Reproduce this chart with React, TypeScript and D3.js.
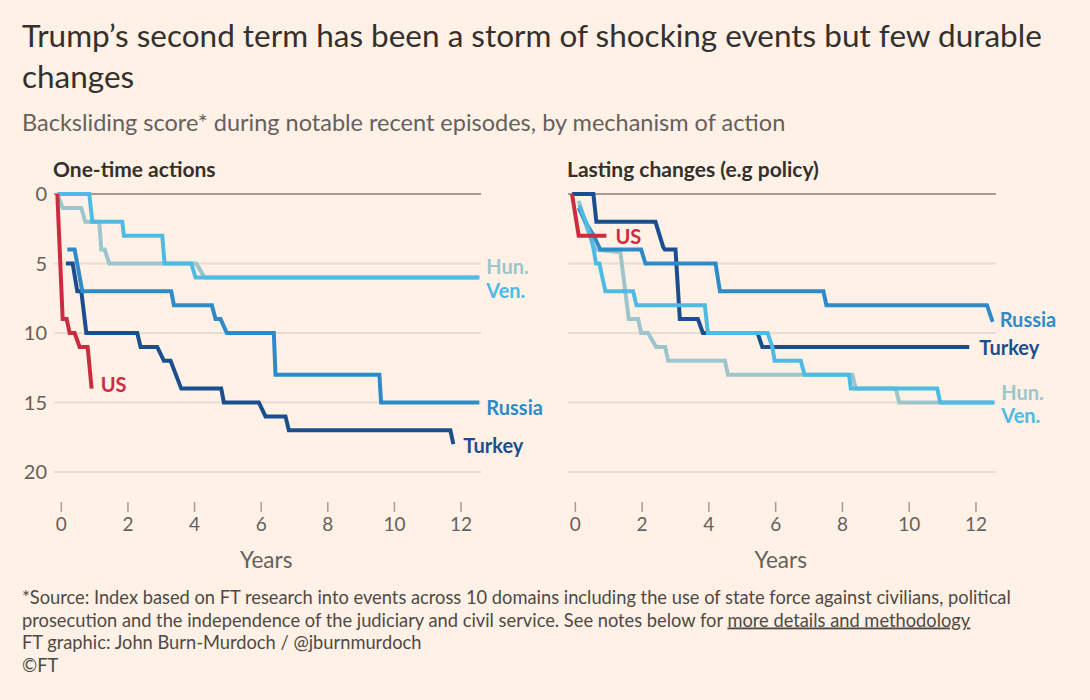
import React, { useRef, useEffect } from "react";
import * as d3 from "d3";

type Pt = [number, number];

const xTicks = [0, 2, 4, 6, 8, 10, 12];
const yTicks = [0, 5, 10, 15, 20];

// One-time actions: [years, backsliding score]
const oneTimeHun: Pt[] = [[-0.12, 0], [0.04, 1], [0.6, 1], [0.72, 2], [1.14, 2], [1.2, 4], [1.3, 4], [1.44, 5], [4.05, 5], [4.3, 6], [12.55, 6]];
const oneTimeTurkey: Pt[] = [[0.14, 5], [0.34, 5], [0.48, 7], [0.6, 7], [0.75, 10], [2.28, 10], [2.38, 11], [2.88, 11], [3.08, 12], [3.28, 12], [3.6, 14], [4.8, 14], [4.88, 15], [5.93, 15], [6.13, 16], [6.73, 16], [6.83, 17], [11.68, 17], [11.77, 18]];
const oneTimeRussia: Pt[] = [[0.18, 4], [0.4, 4], [0.63, 7], [3.3, 7], [3.38, 8], [4.52, 8], [4.63, 9], [4.78, 9], [4.97, 10], [6.38, 10], [6.43, 13], [9.55, 13], [9.6, 15], [12.55, 15]];
const oneTimeVen: Pt[] = [[-0.12, 0], [0.84, 0], [0.93, 2], [1.83, 2], [1.88, 3], [3.03, 3], [3.1, 5], [3.9, 5], [4.03, 6], [12.55, 6]];
const oneTimeUS: Pt[] = [[-0.12, 0], [0.04, 9], [0.16, 9], [0.25, 10], [0.4, 10], [0.55, 11], [0.79, 11], [0.91, 14]];

// Lasting changes (e.g policy)
const lastingHun: Pt[] = [[0.1, 0.5], [0.35, 2.5], [0.6, 4], [1.35, 4.2], [1.6, 9], [1.88, 9], [1.97, 10], [2.18, 10], [2.42, 11], [2.69, 11], [2.78, 12], [4.48, 12], [4.57, 13], [8.3, 13], [8.4, 14], [9.6, 14], [9.7, 15], [12.55, 15]];
const lastingTurkey: Pt[] = [[-0.1, 0], [0.54, 0], [0.63, 2], [2.4, 2], [2.63, 3.8], [2.68, 4], [3.0, 4], [3.13, 9], [3.67, 9], [3.82, 10], [5.46, 10], [5.6, 11], [11.8, 11]];
const lastingRussia: Pt[] = [[0.1, 1], [0.3, 2], [0.55, 3], [0.75, 4], [1.97, 4], [2.1, 5], [4.2, 5], [4.33, 7], [7.43, 7], [7.52, 8], [12.33, 8], [12.5, 9.2]];
const lastingVen: Pt[] = [[0.12, 0.8], [0.4, 2.5], [0.55, 4], [0.62, 5], [0.72, 5], [0.9, 7], [1.73, 7], [1.83, 8], [3.88, 8], [3.97, 10], [5.76, 10], [5.9, 11], [5.97, 12], [6.75, 12], [6.87, 13], [8.2, 13], [8.25, 14], [10.84, 14], [10.93, 15], [12.55, 15]];
const lastingUS: Pt[] = [[-0.1, 0], [0.1, 3], [0.93, 3]];

const colors: Record<string, string> = {
    "Hun.": "#9cc5cd",
    Turkey: "#1b4e8f",
    Russia: "#2e8bca",
    "Ven.": "#4dbbe4",
    US: "#cc2c40",
};

const footer = [
    "*Source: Index based on FT research into events across 10 domains including the use of state force against civilians, political",
    "prosecution and the independence of the judiciary and civil service. See notes below for ",
    "FT graphic: John Burn-Murdoch / @jburnmurdoch",
    "©FT",
];

type Series = { name: string; data: Pt[]; dx: number; dy: number };

const panels: { title: string; range: [number, number]; yLabels: boolean; series: Series[] }[] = [
    {
        title: "One-time actions",
        range: [54, 481],
        yLabels: true,
        series: [
            { name: "Hun.", data: oneTimeHun, dx: 7, dy: -10 },
            { name: "Turkey", data: oneTimeTurkey, dx: 10, dy: 2 },
            { name: "Russia", data: oneTimeRussia, dx: 7, dy: 5 },
            { name: "Ven.", data: oneTimeVen, dx: 7, dy: 14 },
            { name: "US", data: oneTimeUS, dx: 9, dy: -4 },
        ],
    },
    {
        title: "Lasting changes (e.g policy)",
        range: [568, 996],
        yLabels: false,
        series: [
            { name: "Hun.", data: lastingHun, dx: 7, dy: -10 },
            { name: "Turkey", data: lastingTurkey, dx: 10, dy: 1 },
            { name: "Russia", data: lastingRussia, dx: 7, dy: -2 },
            { name: "Ven.", data: lastingVen, dx: 7, dy: 13 },
            { name: "US", data: lastingUS, dx: 9, dy: 1 },
        ],
    },
];

const FONT = "Lato, 'Noto Sans', sans-serif";

export default function App() {
    const ref = useRef<SVGSVGElement | null>(null);

    useEffect(() => {
        if (!ref.current) return;
        const svg = d3.select(ref.current);
        svg.selectAll("*").remove();

        svg.append("rect").attr("width", 1090).attr("height", 700).attr("fill", "#fff1e5");

        svg.append("text").attr("x", 22).attr("y", 47)
            .style("font-family", FONT).style("font-size", "31.5px").attr("fill", "#33302e")
            .text("Trump’s second term has been a storm of shocking events but few durable");
        svg.append("text").attr("x", 22).attr("y", 88)
            .style("font-family", FONT).style("font-size", "31.5px").attr("fill", "#33302e")
            .text("changes");
        svg.append("text").attr("x", 22).attr("y", 131)
            .style("font-family", FONT).style("font-size", "23.5px").attr("fill", "#66605c")
            .text("Backsliding score* during notable recent episodes, by mechanism of action");

        const y = d3.scaleLinear().domain([0, 20]).range([194, 472]);

        panels.forEach(p => {
            const x = d3.scaleLinear().domain([-0.22, 12.6]).range(p.range);
            const g = svg.append("g");

            g.append("text").attr("x", p.range[0] - 1).attr("y", 177)
                .style("font-family", FONT).style("font-size", "21px").style("font-weight", 700)
                .attr("fill", "#33302e").text(p.title);

            // grid
            g.selectAll(".grid").data(yTicks).join("line")
                .attr("x1", p.range[0]).attr("x2", p.range[1])
                .attr("y1", d => y(d)).attr("y2", d => y(d))
                .attr("stroke", d => (d === 0 ? "#a59c94" : "#e8dcd1"))
                .attr("stroke-width", 2);

            if (p.yLabels) {
                g.selectAll(".ylab").data(yTicks).join("text")
                    .attr("x", 47).attr("y", d => y(d)).attr("dy", "0.36em")
                    .attr("text-anchor", "end")
                    .style("font-family", FONT).style("font-size", "20px")
                    .attr("fill", "#66605c").text(d => d);
            }

            // x axis
            g.selectAll(".xt").data(xTicks).join("line")
                .attr("x1", d => x(d)).attr("x2", d => x(d))
                .attr("y1", 502).attr("y2", 512)
                .attr("stroke", "#a59c94").attr("stroke-width", 1.5);
            g.selectAll(".xl").data(xTicks).join("text")
                .attr("x", d => x(d)).attr("y", 531).attr("text-anchor", "middle")
                .style("font-family", FONT).style("font-size", "19px")
                .attr("fill", "#66605c").text(d => d);
            g.append("text").attr("x", x(6.15)).attr("y", 568).attr("text-anchor", "middle")
                .style("font-family", FONT).style("font-size", "22.5px")
                .attr("fill", "#66605c").text("Years");

            const line = d3.line<Pt>().x(d => x(d[0])).y(d => y(d[1]));

            p.series.forEach(s => {
                g.append("path").datum(s.data)
                    .attr("d", line)
                    .attr("fill", "none")
                    .attr("stroke", colors[s.name])
                    .attr("stroke-width", 4)
                    .attr("stroke-linejoin", "miter");
            });

            p.series.forEach(s => {
                const last = s.data[s.data.length - 1];
                g.append("text")
                    .attr("x", x(last[0]) + s.dx).attr("y", y(last[1]) + s.dy)
                    .attr("dy", "0.35em")
                    .style("font-family", FONT).style("font-size", "20px").style("font-weight", 700)
                    .attr("fill", colors[s.name]).text(s.name);
            });
        });

        const foot = svg.append("g")
            .style("font-family", FONT).style("font-size", "18.3px").attr("fill", "#4e4946");
        footer.forEach((t, i) => {
            const tx = foot.append("text").attr("x", 22).attr("y", 604 + i * 22.5).text(t);
            if (i === 1) {
                tx.append("tspan").attr("text-decoration", "underline").text("more details and methodology");
            }
        });
    }, []);

    return (
        <div style={{ position: "absolute", left: 0, top: 0 }}>
            <svg ref={ref} width={1090} height={700} style={{ display: "block" }} />
        </div>
    );
}
